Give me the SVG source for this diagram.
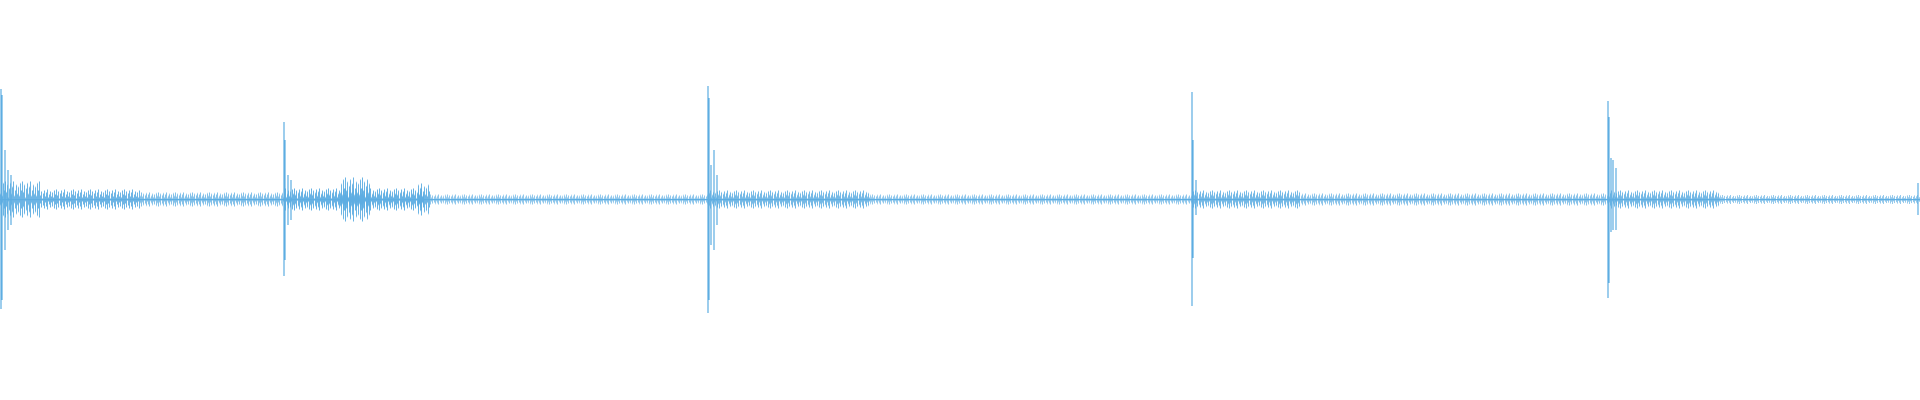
<svg xmlns="http://www.w3.org/2000/svg" width="1920" height="400" viewBox="0 0 1920 400">
<defs>
<pattern id="n" patternUnits="userSpaceOnUse" x="0" y="189.5" width="17" height="20">
<path stroke="#5dade2" stroke-width="0.9" d="M0.5,7v6M1.5,3v14M2.5,8v4M3.5,1v18M4.5,5v10M5.5,0v20M6.5,6v8M7.5,2v16M8.5,9v2M9.5,4v12M10.5,1v18M11.5,7v6M12.5,3v14M13.5,0v20M14.5,8v4M15.5,5v10M16.5,2v16"/>
</pattern>
<style>.w{fill:url(#n)}.s{stroke:#5dade2;stroke-width:1.2;fill:none}</style>
</defs>
<rect width="1920" height="400" fill="#ffffff"/>
<rect x="0" y="199" width="1920" height="1.2" fill="#5dade2"/>
<g id="noise">
<rect class="w" x="0" y="189.5" width="40" height="20" transform="translate(0,199.5) scale(1,1.8) translate(0,-199.5)"/>
<rect class="w" x="40" y="189.5" width="100" height="20" transform="translate(0,199.5) scale(1,1) translate(0,-199.5)"/>
<rect class="w" x="140" y="189.5" width="144" height="20" transform="translate(0,199.5) scale(1,0.7) translate(0,-199.5)"/>
<rect class="w" x="284" y="189.5" width="140" height="20" transform="translate(0,199.5) scale(1,1.1) translate(0,-199.5)"/>
<rect class="w" x="340" y="189.5" width="30" height="20" transform="translate(0,199.5) scale(1,2.2) translate(0,-199.5)"/>
<rect class="w" x="418" y="189.5" width="12" height="20" transform="translate(0,199.5) scale(1,1.6) translate(0,-199.5)"/>
<rect class="w" x="430" y="189.5" width="278" height="20" transform="translate(0,199.5) scale(1,0.5) translate(0,-199.5)"/>
<rect class="w" x="708" y="189.5" width="162" height="20" transform="translate(0,199.5) scale(1,0.9) translate(0,-199.5)"/>
<rect class="w" x="870" y="189.5" width="323" height="20" transform="translate(0,199.5) scale(1,0.5) translate(0,-199.5)"/>
<rect class="w" x="1193" y="189.5" width="107" height="20" transform="translate(0,199.5) scale(1,0.9) translate(0,-199.5)"/>
<rect class="w" x="1300" y="189.5" width="308" height="20" transform="translate(0,199.5) scale(1,0.6) translate(0,-199.5)"/>
<rect class="w" x="1608" y="189.5" width="112" height="20" transform="translate(0,199.5) scale(1,0.9) translate(0,-199.5)"/>
<rect class="w" x="1720" y="189.5" width="200" height="20" transform="translate(0,199.5) scale(1,0.45) translate(0,-199.5)"/>
</g>
<g id="spikes">
<path class="s" d="M1,89V309M2,95V300M5,150V250M8,170V230M11,175V225"/>
<path class="s" d="M284,122V276M285,140V260M288,175V225M291,180V220"/>
<path class="s" d="M708,86V313M709,98V300M711,165V245M714,150V250M717,175V225"/>
<path class="s" d="M1192,92V306M1193,140V258M1196,180V215"/>
<path class="s" d="M1608,101V298M1609,117V283M1611,158V232M1613,160V230M1616,168V230"/>
<path class="s" d="M1918,183V215"/>
</g>
</svg>
